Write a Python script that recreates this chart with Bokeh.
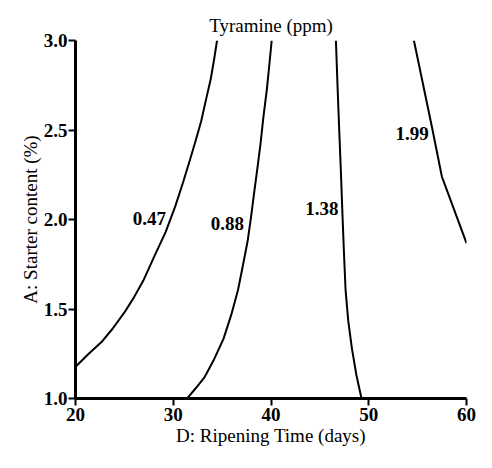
from bokeh.plotting import figure
from bokeh.models import Range1d, FixedTicker, PrintfTickFormatter, ColumnDataSource
from bokeh.core.properties import value
from bokeh.embed import file_html
from bokeh.resources import INLINE

# Contour lines (x: ripening time in days, y: starter content %)
x_047 = [20.04, 21.35, 22.66, 23.81, 24.97, 25.98, 26.94, 28.05, 29.23, 30.22, 31.0,
         31.69, 32.29, 32.85, 33.37, 33.83, 34.17, 34.48]
y_047 = [1.179, 1.25, 1.315, 1.391, 1.478, 1.565, 1.659, 1.793, 1.931, 2.076, 2.207,
         2.33, 2.44, 2.547, 2.674, 2.783, 2.891, 3.0]

x_088 = [31.42, 32.34, 33.17, 34.16, 35.14, 35.93, 36.62, 37.11, 37.6, 37.95, 38.27,
         38.6, 38.92, 39.23, 39.58, 39.84, 40.07]
y_088 = [1.0, 1.06, 1.116, 1.217, 1.333, 1.467, 1.605, 1.739, 1.877, 2.011, 2.148,
         2.283, 2.42, 2.576, 2.728, 2.87, 3.0]

x_138 = [49.26, 48.74, 48.28, 47.9, 47.63, 47.45, 47.29, 47.14, 46.97, 46.8, 46.64]
y_138 = [1.0, 1.13, 1.279, 1.435, 1.605, 1.832, 2.058, 2.283, 2.511, 2.755, 3.0]

x_199 = [54.62, 56.49, 57.48, 60.0]
y_199 = [3.0, 2.51, 2.24, 1.868]

label_text = ["0.47", "0.88", "1.38", "1.99"]
label_x = [27.56, 35.54, 45.2, 54.45]
label_y = [2.005, 1.98, 2.06, 2.48]

x_ticks = [20, 30, 40, 50, 60]
y_ticks = [1.0, 1.5, 2.0, 2.5, 3.0]

FONT = "Liberation Serif"

p = figure(width=476, height=452, x_range=Range1d(20, 60), y_range=Range1d(1, 3),
           output_backend="svg", toolbar_location=None,
           min_border_left=75, min_border_right=10, min_border_top=40, min_border_bottom=54)

p.title.text = "Tyramine (ppm)"
p.title.align = "center"
p.title.text_font = FONT
p.title.text_font_style = "normal"
p.title.text_font_size = "19px"
p.title.text_color = "black"
p.title.standoff = 9

p.outline_line_color = None
p.grid.visible = False
p.background_fill_color = "white"
p.border_fill_color = "white"

for ax, ticks, fmt, lab, s1, s2 in ((p.xaxis[0], x_ticks, "%d", "D: Ripening Time (days)", 2, 1),
                                    (p.yaxis[0], y_ticks, "%.1f", "A: Starter content (%)", 1, 0)):
    ax.ticker = FixedTicker(ticks=ticks)
    ax.formatter = PrintfTickFormatter(format=fmt)
    ax.axis_label = lab
    ax.axis_label_text_font = FONT
    ax.axis_label_text_font_style = "normal"
    ax.axis_label_text_font_size = "19px"
    ax.axis_label_text_color = "black"
    ax.major_label_text_font = FONT
    ax.major_label_text_font_style = "bold"
    ax.major_label_text_font_size = "19px"
    ax.major_label_text_color = "black"
    ax.axis_line_width = 3
    ax.axis_line_color = "black"
    ax.major_tick_line_width = 2
    ax.major_tick_line_color = "black"
    ax.major_tick_in = 0
    ax.major_tick_out = 7
    ax.minor_tick_line_color = None
    ax.major_label_standoff = s1
    ax.axis_label_standoff = s2

for xs, ys in ((x_047, y_047), (x_088, y_088), (x_138, y_138), (x_199, y_199)):
    p.line(xs, ys, line_color="black", line_width=2)

src = ColumnDataSource(dict(x=label_x, y=label_y, t=label_text))
p.text(x="x", y="y", text="t", source=src, text_font=value(FONT), text_font_style="bold",
       text_font_size="19px", text_align="center", text_baseline="middle", text_color="black")

open("out.html", "w").write(file_html(p, INLINE))
